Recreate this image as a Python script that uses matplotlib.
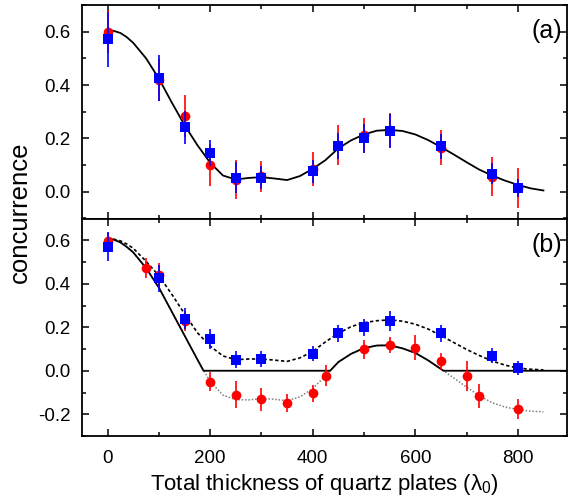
import matplotlib
matplotlib.use("Agg")
import matplotlib.pyplot as plt
from matplotlib.ticker import MultipleLocator
import numpy as np

plt.rcParams['font.family'] = ['Liberation Sans', 'DejaVu Sans']
plt.rcParams['mathtext.fontset'] = 'custom'
plt.rcParams['mathtext.rm'] = 'Liberation Sans'

# ---------------- data: panel (a) ----------------
xa = [0, 100, 150, 200, 250, 300, 400, 450, 500, 550, 650, 750, 800]
a_red = [0.600, 0.420, 0.285, 0.100, 0.046, 0.058, 0.085, 0.175, 0.212, 0.232, 0.166, 0.057, 0.016]
a_red_err = [0.080, 0.078, 0.079, 0.080, 0.073, 0.057, 0.065, 0.075, 0.066, 0.063, 0.067, 0.073, 0.075]
a_blue = [0.571, 0.428, 0.241, 0.145, 0.052, 0.053, 0.077, 0.172, 0.200, 0.229, 0.170, 0.068, 0.015]
a_blue_err = [0.103, 0.086, 0.063, 0.050, 0.058, 0.043, 0.044, 0.049, 0.055, 0.063, 0.048, 0.040, 0.034]

fit_x = [0, 12, 25, 37, 50, 75, 100, 125, 150, 175, 200, 225, 250, 275, 300, 325, 350, 375, 400,
         425, 450, 475, 500, 525, 550, 575, 600, 625, 650, 675, 700, 725, 750, 775, 800,
         825, 850]
a_fit = [0.606, 0.603, 0.595, 0.580, 0.558, 0.500, 0.424, 0.335, 0.250, 0.175, 0.109, 0.061, 0.046,
         0.052, 0.055, 0.050, 0.044, 0.059, 0.086, 0.119, 0.163, 0.193, 0.215, 0.229,
         0.232, 0.228, 0.215, 0.194, 0.168, 0.140, 0.111, 0.083, 0.061, 0.042, 0.026,
         0.013, 0.005]

# ---------------- data: panel (b) ----------------
xb_red = [0, 75, 100, 150, 200, 250, 300, 350, 400, 425, 500, 550, 600, 650, 700, 725, 800]
b_red = [0.597, 0.472, 0.439, 0.229, -0.050, -0.110, -0.132, -0.148, -0.104, -0.023,
         0.098, 0.120, 0.106, 0.043, -0.025, -0.115, -0.177]
b_red_err = [0.035, 0.045, 0.058, 0.047, 0.043, 0.062, 0.054, 0.040, 0.039, 0.048,
             0.043, 0.037, 0.058, 0.040, 0.068, 0.055, 0.047]
xb_blue = [0, 100, 150, 200, 250, 300, 400, 450, 500, 550, 650, 750, 800]
b_blue = [0.571, 0.426, 0.240, 0.147, 0.051, 0.053, 0.079, 0.172, 0.200, 0.230, 0.172, 0.070, 0.013]
b_blue_err = [0.065, 0.062, 0.048, 0.045, 0.039, 0.038, 0.033, 0.038, 0.040, 0.045, 0.038, 0.033, 0.034]

b_blue_fit = [0.608, 0.605, 0.597, 0.583, 0.563, 0.503, 0.437, 0.352, 0.262, 0.175, 0.113, 0.068,
              0.051, 0.054, 0.054, 0.049, 0.043, 0.059, 0.089, 0.133, 0.172, 0.203,
              0.221, 0.230, 0.234, 0.228, 0.214, 0.192, 0.162, 0.130, 0.098, 0.070,
              0.045, 0.026, 0.012, 0.007, 0.004]
b_red_fit = [0.607, 0.603, 0.590, 0.570, 0.544, 0.472, 0.382, 0.272, 0.162, 0.052, -0.050, -0.112,
             -0.133, -0.134, -0.128, -0.131, -0.138, -0.120, -0.082, -0.023, 0.040,
             0.078, 0.104, 0.116, 0.117, 0.103, 0.082, 0.048, 0.008, -0.033, -0.075,
             -0.115, -0.147, -0.167, -0.178, -0.186, -0.189]
solid_x = [0, 12, 25, 37, 50, 75, 100, 125, 150, 175, 187, 434, 450, 475, 500, 525, 550, 575,
           600, 625, 650, 655, 900]
solid_y = [0.607, 0.603, 0.590, 0.570, 0.544, 0.472, 0.382, 0.272, 0.162, 0.052, 0.0, 0.0, 0.040,
           0.078, 0.104, 0.116, 0.117, 0.103, 0.082, 0.048, 0.008, 0.0, 0.0]

xticks = [0, 200, 400, 600, 800]

W, H = 568, 499
fig = plt.figure(figsize=(W / 100, H / 100), dpi=100)
left, right = 81.5 / W, 566.5 / W
ax_a = fig.add_axes([left, 1 - 218.5 / H, right - left, (218.5 - 5) / H])
ax_b = fig.add_axes([left, 1 - 436 / H, right - left, (436 - 218.5) / H], sharex=ax_a)

red = '#ff0000'
blue = '#0000ff'


def errs(ax, x, y, e, color, marker, z):
    ax.errorbar(x, y, yerr=e, fmt=marker, color=color, ms=7, mew=0, ecolor=color,
                elinewidth=1.2, capsize=3.2, capthick=1.2, zorder=z)


# panel (a)
ax_a.plot(fit_x, a_fit, color='black', lw=1.3, zorder=2)
errs(ax_a, xa, a_red, a_red_err, red, 'o', 3)
errs(ax_a, xa, a_blue, a_blue_err, blue, 's', 4)

# panel (b)
ax_b.plot(fit_x, b_red_fit, color='#808080', lw=1.1, ls=(0, (1, 1.2)), zorder=2)
ax_b.plot(solid_x, solid_y, color='black', lw=1.3, zorder=2.5)
ax_b.plot(fit_x, b_blue_fit, color='black', lw=1.2, ls=(0, (2, 1.5)), zorder=2.6)
errs(ax_b, xb_red, b_red, b_red_err, red, 'o', 3)
errs(ax_b, xb_blue, b_blue, b_blue_err, blue, 's', 4)

ax_a.set_xlim(-51, 895)
ax_a.set_ylim(-0.1, 0.7)
ax_b.set_ylim(-0.3, 0.7)

for ax in (ax_a, ax_b):
    ax.xaxis.set_major_locator(MultipleLocator(200))
    ax.xaxis.set_minor_locator(MultipleLocator(100))
    ax.yaxis.set_major_locator(MultipleLocator(0.2))
    ax.yaxis.set_minor_locator(MultipleLocator(0.1))
    ax.tick_params(which='both', direction='in', top=True, right=True, width=1.1,
                   labelsize=13.5)
    ax.tick_params(axis='y', pad=8)
    ax.tick_params(axis='x', pad=10)
    ax.tick_params(which='major', length=5)
    ax.tick_params(which='minor', length=3)
    for s in ax.spines.values():
        s.set_linewidth(1.3)
    ax.yaxis.set_major_formatter(matplotlib.ticker.FuncFormatter(
        lambda v, p: ('%.1f' % v).replace('-0.0', '0.0')))

ax_a.set_yticks([0.0, 0.2, 0.4, 0.6])
ax_b.set_yticks([-0.2, 0.0, 0.2, 0.4, 0.6])
ax_b.set_xticks(xticks)
plt.setp(ax_a.get_xticklabels(), visible=False)

ax_a.text(0.99, 0.935, '(a)', transform=ax_a.transAxes, ha='right', va='top', fontsize=18)
ax_b.text(0.99, 0.935, '(b)', transform=ax_b.transAxes, ha='right', va='top', fontsize=18)

ax_b.set_xlabel('Total thickness of quartz plates (λ$_{\\mathregular{0}}$)', fontsize=16,
                labelpad=4)
fig.text(20 / W, 1 - 212 / H, 'concurrence', rotation=90, ha='center', va='center',
         fontsize=18.5)

fig.savefig('out.png', dpi=100)
